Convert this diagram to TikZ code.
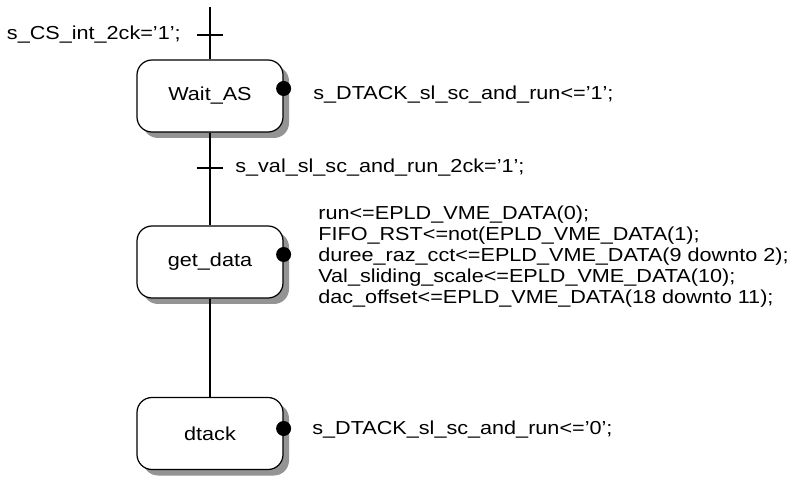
\documentclass[tikz,border=0pt]{standalone}
\usepackage{fontspec}
\setmainfont{Liberation Sans}[FakeStretch=1.15]
\usetikzlibrary{shadows}

\begin{document}
\begin{tikzpicture}[
    font=\fontsize{10.7}{11.9}\selectfont,
    stato/.style={draw,line width=0.7pt,rounded corners=0.3cm,fill=white,
      minimum width=2.92cm,minimum height=1.44cm,
      general shadow={fill=black!42,shadow xshift=0.12cm,shadow yshift=-0.12cm}},
    punto/.style={circle,fill=black,inner sep=0pt,minimum size=0.3cm},
    azione/.style={anchor=west,align=left,inner sep=0pt},
    filo/.style={line width=0.7pt}]

  \useasboundingbox (0,0) rectangle (15.9,9.52);

  % ---- stati della macchina ------------------------------------------------
  \node[stato] (wait)  at (4.2,7.6)  {Wait\_AS};
  \node[stato] (get)   at (4.2,4.28) {get\_data};
  \node[stato] (dtack) at (4.2,0.85) {dtack};

  % ---- collegamenti e transizioni ------------------------------------------
  \coordinate (inizio) at (4.2,9.38);
  \draw[filo] (inizio) -- (wait.north);
  \draw[filo] (wait.south) -- (get.north);
  \draw[filo] (get.south) -- (dtack.north);

  \coordinate (t1) at (4.2,8.82);
  \coordinate (t2) at (4.2,6.16);
  \draw[filo] ([xshift=-0.26cm]t1) -- ([xshift=0.26cm]t1);
  \draw[filo] ([xshift=-0.26cm]t2) -- ([xshift=0.26cm]t2);
  \node[anchor=east,inner sep=0pt] (c1) at (3.62,8.82) {s\_CS\_int\_2ck='1';};
  \node[anchor=west,inner sep=0pt] (c2) at (4.7,6.16) {s\_val\_sl\_sc\_and\_run\_2ck='1';};

  % ---- azioni degli stati ----------------------------------------------------
  \node[punto] (pw) at ([yshift=0.15cm]wait.east)  {};
  \node[punto] (pg) at ([yshift=0.15cm]get.east)   {};
  \node[punto] (pd) at ([yshift=0.1cm]dtack.east)  {};
  \node[azione] (aw) at (6.26,7.62) {s\_DTACK\_sl\_sc\_and\_run<='1';};
  \node[azione] (ag) at (6.36,4.39) {run<=EPLD\_VME\_DATA(0);\\
    FIFO\_RST<=not(EPLD\_VME\_DATA(1);\\
    duree\_raz\_cct<=EPLD\_VME\_DATA(9 downto 2);\\
    Val\_sliding\_scale<=EPLD\_VME\_DATA(10);\\
    dac\_offset<=EPLD\_VME\_DATA(18 downto 11);};
  \node[azione] (ad) at (6.24,0.92) {s\_DTACK\_sl\_sc\_and\_run<='0';};

\end{tikzpicture}
\end{document}
